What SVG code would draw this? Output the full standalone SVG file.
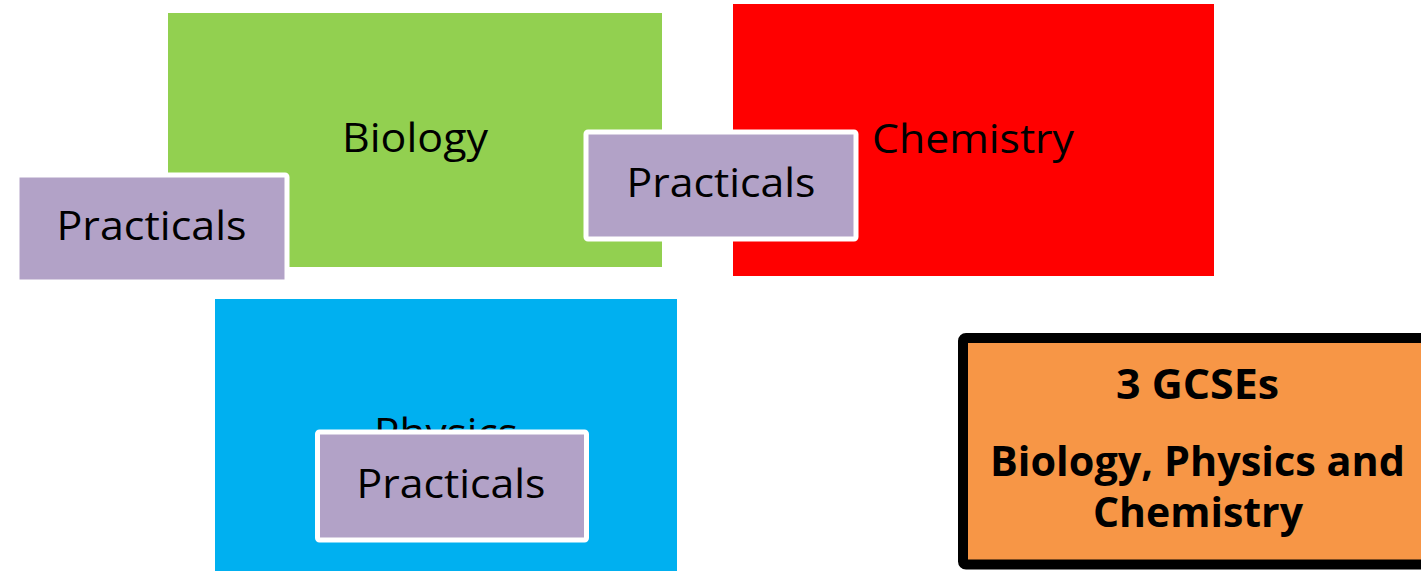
<svg xmlns="http://www.w3.org/2000/svg" width="1421" height="571" viewBox="0 0 1421 571">
<style>
.lbl{font-family:"Open Sans","Liberation Sans",sans-serif;font-size:41px;fill:#000;text-anchor:middle}
.bold{font-weight:bold}
.prac{fill:#B2A2C7;stroke:#FFFFFF;stroke-width:5}
</style>
<rect width="1421" height="571" fill="#FFFFFF"/>
<g id="biology">
<rect x="168" y="13" width="494" height="254" fill="#92D050"/>
<text class="lbl" x="415" y="152" textLength="146" lengthAdjust="spacingAndGlyphs">Biology</text>
</g>
<g id="chemistry">
<rect x="733" y="4" width="481" height="272" fill="#FF0000"/>
<text class="lbl" x="973" y="153" textLength="202" lengthAdjust="spacingAndGlyphs">Chemistry</text>
</g>
<g id="practicals-biology">
<rect class="prac" x="17" y="175" width="270" height="107" rx="2"/>
<text class="lbl" x="151.5" y="240" textLength="190" lengthAdjust="spacingAndGlyphs">Practicals</text>
</g>
<g id="practicals-chemistry">
<rect class="prac" x="586" y="132" width="270" height="107" rx="2"/>
<text class="lbl" x="721" y="197" textLength="189" lengthAdjust="spacingAndGlyphs">Practicals</text>
</g>
<g id="physics">
<rect x="215" y="299" width="462" height="280" fill="#00B0F0"/>
<text class="lbl" x="446" y="447" textLength="144" lengthAdjust="spacingAndGlyphs">Physics</text>
</g>
<g id="practicals-physics">
<rect class="prac" x="317.5" y="432" width="269" height="108" rx="2"/>
<text class="lbl" x="451" y="498" textLength="189" lengthAdjust="spacingAndGlyphs">Practicals</text>
</g>
<g id="gcses">
<rect x="963" y="338" width="520" height="226.5" rx="3" fill="#F79646" stroke="#000000" stroke-width="10"/>
<text class="lbl bold" x="1197.5" y="399" textLength="163" lengthAdjust="spacingAndGlyphs">3 GCSEs</text>
<text class="lbl bold" x="1197.5" y="476" textLength="415" lengthAdjust="spacingAndGlyphs">Biology, Physics and</text>
<text class="lbl bold" x="1198" y="527" textLength="210" lengthAdjust="spacingAndGlyphs">Chemistry</text>
</g>
<g id="connectors"></g>
</svg>
